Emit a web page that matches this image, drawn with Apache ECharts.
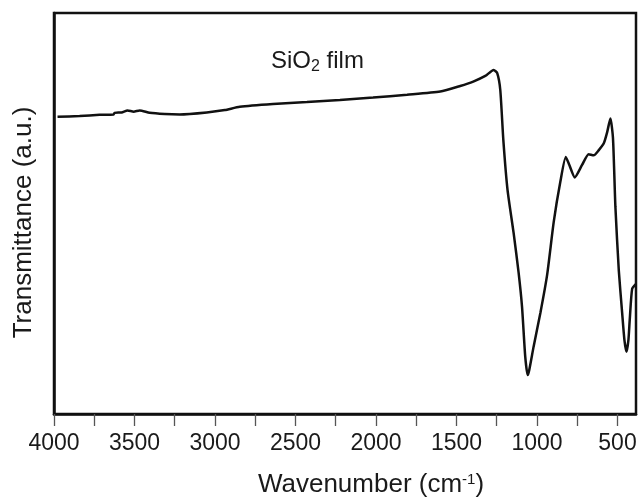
<!DOCTYPE html>
<html>
<head>
    <meta charset="utf-8">
    <title>SiO2 film FTIR</title>
    <style type="text/css">
        html, body {
            width: 100%;
            height: 100%;
            margin: 0;
            padding: 0;
            background: #fff;
        }
        #main {
            width: 639px;
            height: 500px;
        }
    </style>
    <script src="https://cdn.jsdelivr.net/npm/echarts@6/dist/echarts.min.js"></script>
</head>
<body>
<div id="main"></div>
<script type="text/javascript">
    // spectrum (wavenumber in cm-1, transmittance in a.u.)
    var wavenumber = [
        3978, 3841, 3717, 3630, 3624, 3580, 3543, 3505, 3468, 3406,
        3312, 3219, 3051, 2939, 2846, 2640, 2429, 2224, 2018, 1807,
        1601, 1477, 1396, 1321, 1269, 1247, 1228, 1209, 1183, 1145,
        1114, 1093, 1073, 1058, 1048, 1021, 979, 937, 896, 855,
        821, 799, 765, 720, 679, 648, 616, 585, 564, 544,
        528, 513, 492, 471, 457, 444, 432, 424, 409, 386
    ];
    var transmittance = [
        74.1, 74.3, 74.6, 74.7, 75.1, 75.2, 75.7, 75.4, 75.7, 75.1,
        74.8, 74.7, 75.2, 75.8, 76.6, 77.3, 77.8, 78.3, 78.9, 79.6,
        80.4, 81.8, 82.9, 84.3, 85.8, 85.0, 80.8, 68.3, 55.9, 45.1,
        35.2, 26.8, 14.3, 9.7, 11.0, 16.8, 25.2, 34.7, 47.9, 57.9,
        64.1, 62.1, 59.0, 62.1, 64.8, 64.5, 65.8, 67.5, 70.3, 73.7,
        68.8, 51.7, 35.9, 25.2, 18.5, 15.5, 18.5, 23.4, 31.2, 32.4
    ];
    var labelTicks = [4000, 3500, 3000, 2500, 2000, 1500, 1000, 500];
    var minorTicks = [4000, 3750, 3500, 3250, 3000, 2750, 2500, 2250, 2000, 1750, 1500, 1250, 1000, 750, 500];

    var points = [];
    for (var i = 0; i < wavenumber.length; i++) {
        points.push([wavenumber[i], transmittance[i]]);
    }

    var myChart = echarts.init(document.getElementById('main'));

    var font = 'Liberation Sans, Arial, Helvetica, sans-serif';

    var option = {
        animation: false,
        backgroundColor: '#fff',
        textStyle: { fontFamily: font },
        grid: {
            left: 54,
            right: 3,
            top: 13,
            bottom: 86,
            outerBoundsMode: 'none',
            containLabel: false,
            show: true,
            borderColor: '#111',
            borderWidth: 2.5
        },
        xAxis: {
            type: 'value',
            inverse: true,
            min: 385,
            max: 4000,
            splitLine: { show: false },
            axisLine: { show: true, onZero: false, lineStyle: { color: '#111', width: 2.5 } },
            axisTick: {
                show: true,
                inside: false,
                length: 12,
                customValues: minorTicks,
                lineStyle: { color: '#555', width: 1.3 }
            },
            axisLabel: {
                customValues: labelTicks,
                formatter: function (v) { return String(v); },
                margin: 18,
                color: '#1a1a1a',
                fontSize: 23,
                fontFamily: font
            },
            name: '{t|Wavenumber (cm}{s|-1}{t|)}',
            nameLocation: 'middle',
            nameGap: 58,
            nameTextStyle: {
                padding: [0, 0, 0, 52],
                rich: {
                    t: { fontSize: 26, color: '#1a1a1a', fontFamily: font },
                    s: { fontSize: 15, color: '#1a1a1a', fontFamily: font, verticalAlign: 'top', padding: [0, 0, 11, 0] }
                }
            }
        },
        yAxis: {
            type: 'value',
            min: 0,
            max: 100,
            axisLine: { show: true, lineStyle: { color: '#111', width: 2.5 } },
            axisTick: { show: false },
            axisLabel: { show: false },
            splitLine: { show: false },
            name: 'Transmittance (a.u.)',
            nameLocation: 'middle',
            nameGap: 17,
            nameTextStyle: { fontSize: 26, color: '#1a1a1a', fontFamily: font, padding: [0, 18, 0, 0] }
        },
        graphic: [{
            type: 'text',
            left: 271,
            top: 49,
            style: {
                text: '{t|SiO}{s|2}{t| film}',
                rich: {
                    t: { fontSize: 24, fill: '#1a1a1a', fontFamily: font },
                    s: { fontSize: 16, fill: '#1a1a1a', fontFamily: font, padding: [12, 0, 0, 0] }
                }
            }
        }],
        series: [{
            type: 'line',
            data: points,
            showSymbol: false,
            smooth: 0.2,
            lineStyle: { color: '#111', width: 2.5 }
        }]
    };

    myChart.setOption(option);
</script>
</body>
</html>
